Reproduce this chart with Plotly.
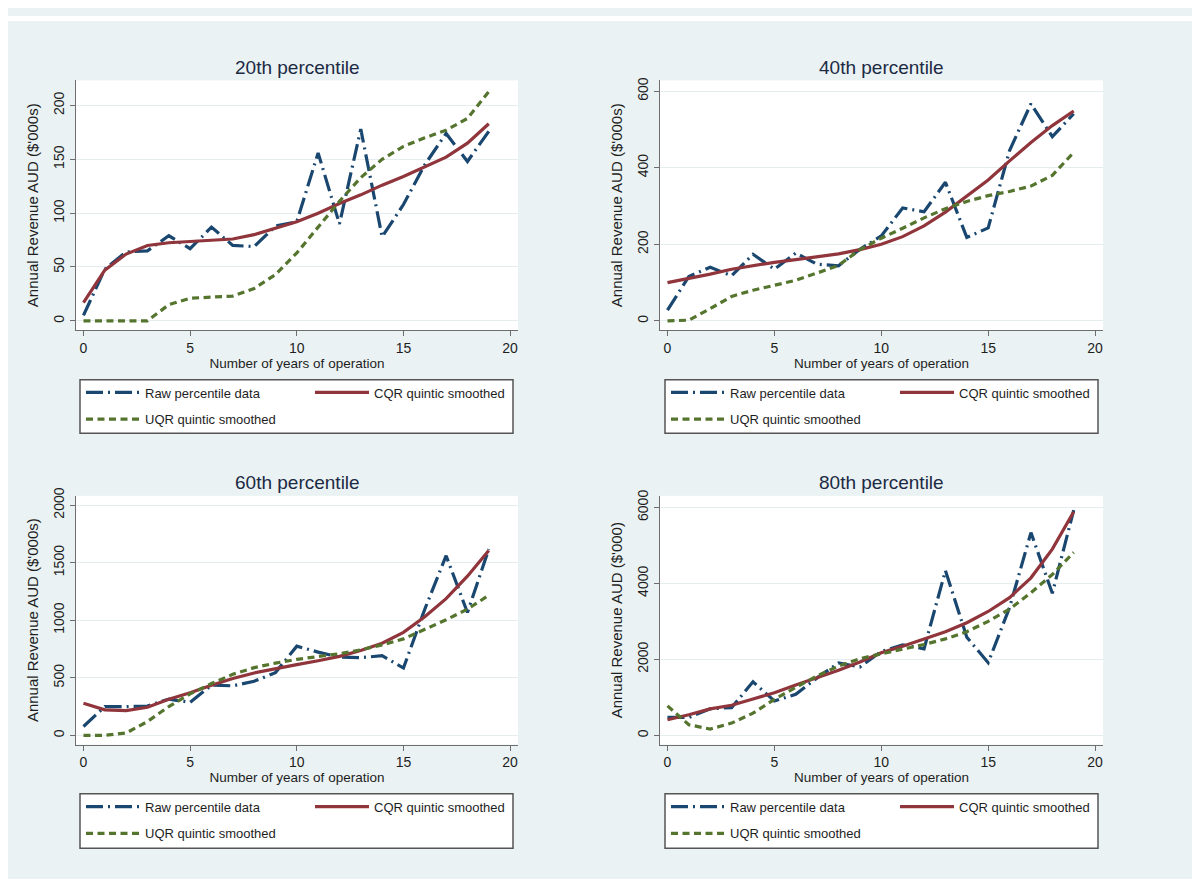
import plotly.graph_objects as go

# The page body has an 8px margin; the figure is placed at (8, 8) in the window.
OX, OY = 8, 8
W, H = 1200 - OX, 879 - OY

years = list(range(20))

titles = ["20th percentile", "40th percentile", "60th percentile", "80th percentile"]
ytitles = ["Annual Revenue AUD ($'000s)", "Annual Revenue AUD ($'000s)",
           "Annual Revenue AUD ($'000s)", "Annual Revenue AUD ($'000)"]
xtitle = "Number of years of operation"
series_names = ["Raw percentile data", "CQR quintic smoothed", "UQR quintic smoothed"]

raw_p20 = [5, 48, 64, 65, 79, 67, 87, 70, 69, 88, 92, 156, 90, 178, 78, 108, 145, 174, 148, 176]
cqr_p20 = [17, 47, 62, 70, 72.5, 73.5, 74.5, 76, 80, 86, 92, 100, 109, 117, 126, 134, 143, 152, 165, 183]
uqr_p20 = [0, 0, 0, 0, 15, 21, 22, 23, 30, 43, 63, 87, 111, 133, 150, 162, 170, 177, 188, 213]

raw_p40 = [28, 116, 140, 118, 174, 135, 177, 148, 144, 187, 222, 295, 285, 362, 218, 243, 445, 567, 481, 541]
cqr_p40 = [100, 110, 122, 135, 145, 153, 160, 167, 175, 186, 200, 220, 248, 284, 325, 368, 418, 466, 510, 548]
uqr_p40 = [0, 2, 32, 64, 80, 93, 106, 125, 145, 186, 216, 242, 269, 293, 312, 327, 338, 352, 380, 440]

raw_p60 = [77, 250, 250, 255, 315, 287, 436, 430, 470, 545, 775, 723, 680, 675, 692, 585, 1096, 1561, 1067, 1618]
cqr_p60 = [278, 221, 215, 244, 313, 370, 436, 494, 542, 580, 614, 648, 686, 737, 800, 895, 1030, 1188, 1383, 1607]
uqr_p60 = [0, 0, 20, 120, 250, 360, 450, 530, 588, 628, 660, 683, 709, 743, 786, 838, 918, 1004, 1096, 1217]

raw_p80 = [470, 470, 700, 730, 1409, 904, 1080, 1513, 1904, 1800, 2208, 2383, 2278, 4339, 2583, 1913, 3365, 5339, 3739, 5930]
cqr_p80 = [409, 540, 696, 791, 957, 1122, 1322, 1513, 1713, 1930, 2174, 2348, 2539, 2730, 2965, 3261, 3626, 4148, 4904, 5887]
uqr_p80 = [774, 278, 165, 322, 583, 948, 1261, 1565, 1826, 2017, 2148, 2261, 2391, 2539, 2730, 3000, 3322, 3757, 4235, 4817]

panels_data = [(raw_p20, cqr_p20, uqr_p20), (raw_p40, cqr_p40, uqr_p40),
               (raw_p60, cqr_p60, uqr_p60), (raw_p80, cqr_p80, uqr_p80)]

ytickvals = [[0, 50, 100, 150, 200], [0, 200, 400, 600],
             [0, 500, 1000, 1500, 2000], [0, 2000, 4000, 6000]]
yranges = [[-8.6, 223.3], [-24, 628], [-80, 2081], [-243, 6306]]
xrange_ = [-0.35, 20.37]

# window-pixel boxes for each plot region (left, right, top, bottom)
boxes = [(76, 518, 73, 325), (660, 1103, 73, 325),
         (76, 518, 492.3, 743.3), (660, 1103, 492.3, 743.3)]
legend_boxes = [(80, 513, 375, 429), (665, 1098, 375, 429),
                (80, 513, 793, 848), (665, 1098, 793, 848)]


def fx(px):
    return (px - OX) / W


def fy(py):
    return 1 - (py - OY) / H


NAVY = "#1a476f"
MAROON = "#90353b"
GREEN = "#55752f"
BG = "#eaf2f3"
GRID = "#e4eced"
AXC = "#6e6e6e"
TXT = "#1e1e1e"
FONT = "Liberation Sans, Arial, sans-serif"

styles = [dict(color=NAVY, width=3.2, dash="17px,5px,2px,5px"),
          dict(color=MAROON, width=3.2),
          dict(color=GREEN, width=3.2, dash="7px,4.5px")]

fig = go.Figure()
layout = dict(width=W, height=H, margin=dict(l=0, r=0, t=0, b=0),
              paper_bgcolor=BG, plot_bgcolor="white",
              font=dict(family=FONT, color=TXT), showlegend=True)
shapes = [
    dict(type="rect", xref="paper", yref="paper", x0=0, x1=1, y0=fy(13), y1=1,
         fillcolor="white", line=dict(width=0), layer="below"),
]
annotations = []

leg_idx = 0
for i, (data, box) in enumerate(zip(panels_data, boxes)):
    n = i + 1
    xa = "x" if n == 1 else f"x{n}"
    ya = "y" if n == 1 else f"y{n}"
    l, r, t, b = box
    layout[f"xaxis{'' if n == 1 else n}"] = dict(
        domain=[fx(l), fx(r)], range=xrange_, anchor=ya,
        tickvals=[0, 5, 10, 15, 20], ticks="outside", ticklen=5, tickcolor=AXC,
        showline=True, linecolor=AXC, linewidth=1.3, showgrid=False, zeroline=False,
        tickfont=dict(size=14, color=TXT),
        title=dict(text=xtitle, font=dict(size=13.5, color=TXT), standoff=2))
    layout[f"yaxis{'' if n == 1 else n}"] = dict(
        domain=[fy(b), fy(t)], range=yranges[i], anchor=xa,
        tickvals=ytickvals[i], ticks="outside", ticklen=5, tickcolor=AXC,
        tickangle=-90, showline=True, linecolor=AXC, linewidth=1.3,
        showgrid=True, gridcolor=GRID, gridwidth=1.2, zeroline=False,
        tickfont=dict(size=14, color=TXT),
        title=dict(text=ytitles[i], font=dict(size=15, color=TXT), standoff=8))
    annotations.append(dict(text=titles[i], xref="paper", yref="paper",
                            x=fx((l + r) / 2), y=fy(t - 13),
                            xanchor="center", yanchor="middle", showarrow=False,
                            font=dict(size=19, color="#1c2a44")))
    lb = legend_boxes[i]
    shapes.append(dict(type="rect", xref="paper", yref="paper",
                       x0=fx(lb[0]), x1=fx(lb[1]), y0=fy(lb[3]), y1=fy(lb[2]),
                       fillcolor="white", line=dict(color="#555555", width=1.5)))
    ypos1 = lb[2] + 13
    ypos2 = lb[2] + 40
    positions = [(lb[0] + 1, ypos1), (lb[0] + 230, ypos1), (lb[0] + 1, ypos2)]
    for s, (vals, name, st) in enumerate(zip(data, series_names, styles)):
        leg_idx += 1
        lname = "legend" if leg_idx == 1 else f"legend{leg_idx}"
        fig.add_trace(go.Scatter(x=years, y=vals, mode="lines", name=name,
                                 line=st, xaxis=xa, yaxis=ya, legend=lname))
        px, py = positions[s]
        layout[lname] = dict(x=fx(px), y=fy(py), xanchor="left", yanchor="middle",
                             bgcolor="rgba(0,0,0,0)", borderwidth=0, itemwidth=54,
                             font=dict(size=13, color=TXT, family=FONT))

layout["shapes"] = shapes
layout["annotations"] = annotations
fig.update_layout(**layout)
fig.write_html("out.html")
